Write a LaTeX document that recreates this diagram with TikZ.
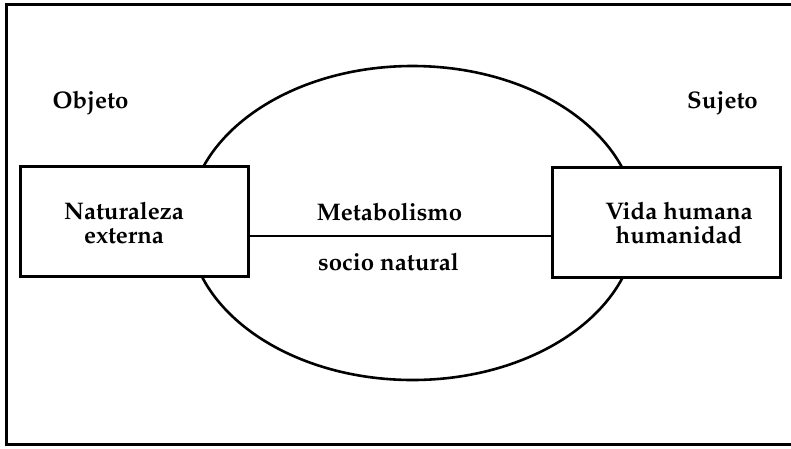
\documentclass[tikz,border=0pt]{standalone}
\usepackage[T1]{fontenc}
\usepackage{mathpazo}
\usepackage{tikz}

\tikzset{
  box/.style={draw=black, fill=white, line width=3pt, minimum width=228pt, minimum height=110pt},
  lbl/.style={font=\fontsize{24}{24.5}\selectfont\bfseries, inner sep=0pt, align=center}
}

\begin{document}
\begin{tikzpicture}[x=1pt, y=-1pt, line width=2.6pt]

\useasboundingbox (0, 0) rectangle (791, 448);

% draw outer frame
\draw[color=black, line width=3pt] (791, 4) -- (6, 4) -- (6, 444) -- (791, 444);

% draw ellipse
\draw[color=black] (412.5, 223) ellipse [x radius=224, y radius=157];

% draw boxes
\node[box] (nat) at (134, 221) {};
\node[box] (vida) at (666, 222) {};

% draw connecting line
\draw[color=black] ([yshift=-15pt]nat.east) -- ([yshift=-14pt]vida.west);

% draw labels
\node[lbl, anchor=base] (obj) at (90.5, 108) {Objeto};
\node[lbl, anchor=base] (suj) at (722.5, 108) {Sujeto};
\node[lbl] (natl) at (124, 223) {Naturaleza\\externa};
\node[lbl] (vidal) at (679, 223) {Vida humana\\humanidad};
\node[lbl, anchor=base] (meta) at (389.5, 220) {Metabolismo};
\node[lbl, anchor=base] (socio) at (388.5, 270) {socio natural};

\end{tikzpicture}
\end{document}
